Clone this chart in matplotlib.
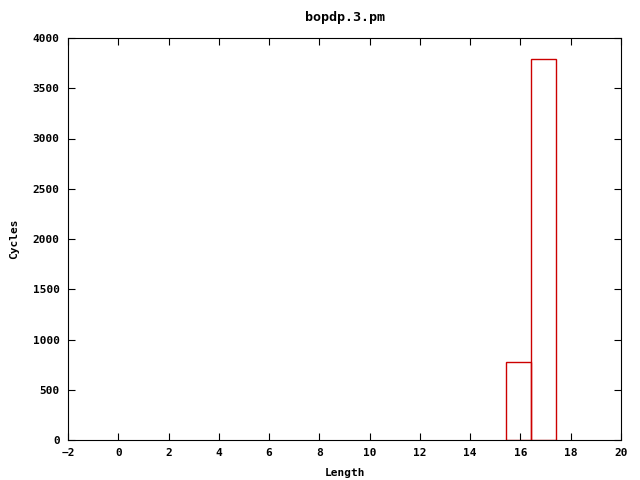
import matplotlib
matplotlib.use("Agg")
import matplotlib.pyplot as plt

lengths = [16, 17]
cycles = [775, 3790]
title = "bopdp.3.pm"

plt.rcParams['font.family'] = ['DejaVu Sans Mono']
plt.rcParams['font.weight'] = 'bold'
plt.rcParams['font.size'] = 8

fig = plt.figure(figsize=(6.4, 4.8), dpi=100)
ax = fig.add_axes([68/640, 1-440/480, (621-68)/640, (440-38)/480])

ax.bar([l - 0.58 for l in lengths], cycles, width=1.0, align='edge',
       facecolor='none', edgecolor='#cc0000', linewidth=1.0)

ax.set_xlim(-2, 20)
ax.set_ylim(0, 4000)
ax.set_xticks(range(-2, 21, 2))
ax.set_yticks(range(0, 4001, 500))
ax.tick_params(direction='in', top=True, right=True, length=5, width=0.8, pad=6)
for s in ax.spines.values():
    s.set_linewidth(0.8)
ax.set_xlabel("Length", fontweight='bold', labelpad=7)
ax.set_ylabel("Cycles", fontweight='bold', labelpad=10)
ax.set_title(title, fontweight='bold', pad=12)

fig.savefig("out.png", dpi=100)
